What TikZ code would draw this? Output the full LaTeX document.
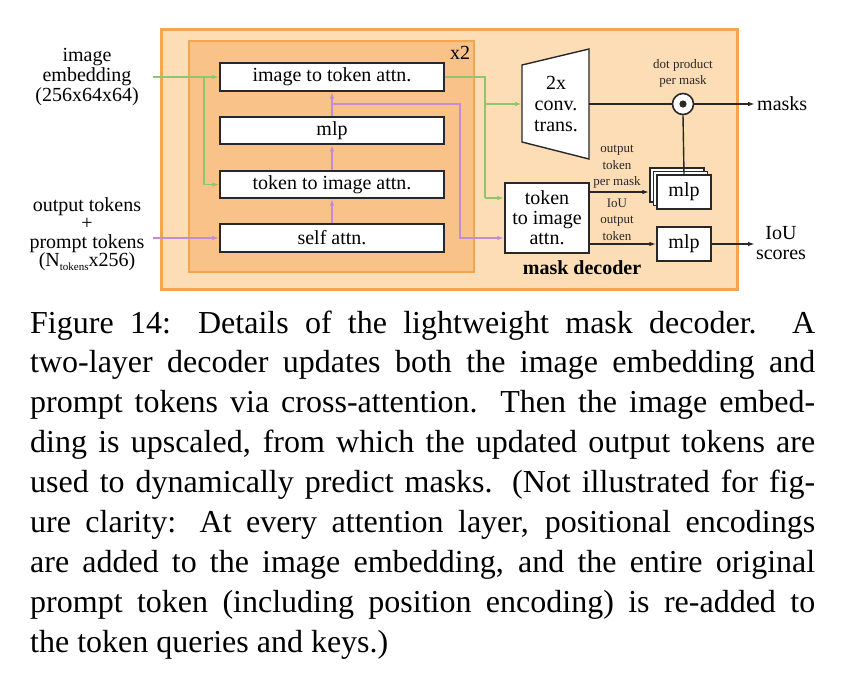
\documentclass[tikz,border=0pt]{standalone}
\usepackage{fontspec}
\setmainfont{Liberation Serif}
\usetikzlibrary{arrows.meta}
\definecolor{borderor}{RGB}{245,166,76}
\definecolor{outerfill}{RGB}{253,221,181}
\definecolor{innerfill}{RGB}{248,194,136}
\definecolor{greenln}{RGB}{140,198,110}
\definecolor{purpleln}{RGB}{192,142,212}
\definecolor{darkln}{RGB}{40,40,40}
\newcommand{\dfont}{\fontsize{20}{21}\selectfont}
\newcommand{\sfontsmall}{\fontsize{13}{16}\selectfont}
\begin{document}
\begin{tikzpicture}[x=1pt,y=-1pt,
  wbox/.style={draw=darkln,line width=1.4pt,fill=white,inner sep=0pt,font=\dfont},
  garr/.style={greenln,line width=1.5pt,-{Latex[length=7pt,width=4.5pt]}},
  gline/.style={greenln,line width=1.5pt},
  parr/.style={purpleln,line width=1.5pt,-{Latex[length=7pt,width=4.5pt]}},
  pline/.style={purpleln,line width=1.5pt},
  barr/.style={darkln,line width=1.4pt,-{Latex[length=7pt,width=4.5pt]}},
  bline/.style={darkln,line width=1.4pt},
  lbl/.style={font=\dfont,align=center,inner sep=0pt},
  slbl/.style={font=\sfontsmall,align=center,inner sep=0pt,text=darkln}]
\useasboundingbox (0,0) rectangle (843,678);
% containers
\draw[borderor,line width=3pt,fill=outerfill] (161.5,29.5) rectangle (737.5,289);
\draw[borderor,line width=2.5pt,fill=innerfill] (189,41) rectangle (474,272);
\node[lbl,anchor=center] (x2) at (460,53) {x2};
\node[lbl,font=\fontsize{20}{21}\selectfont\bfseries] (md) at (582,268) {mask decoder};
% inner boxes
\node[wbox,minimum width=224pt,minimum height=28pt] (itt) at (332,77) {image to token attn.};
\node[wbox,minimum width=224pt,minimum height=27pt] (mlpa) at (332,130.5) {mlp};
\node[wbox,minimum width=224pt,minimum height=27pt] (tti) at (332,184.5) {token to image attn.};
\node[wbox,minimum width=224pt,minimum height=28pt] (sa) at (332,238) {self attn.};
% left labels
\node[lbl,font=\fontsize{20}{20}\selectfont] (imemb) at (87,77) {image\\embedding\\(256x64x64)};
\node[lbl,font=\fontsize{20}{18.5}\selectfont] (otok) at (87,234) {output tokens\\+\\prompt tokens\\(N\raisebox{-0.45ex}{\fontsize{11}{11}\selectfont tokens}x256)};
\coordinate (gin) at (153,77);
\coordinate (pin) at (153,238);
% conv trans
\draw[darkln,line width=1.4pt,fill=white] (522,65) -- (589,49) -- (589,159) -- (522,142) -- cycle;
\node[lbl] (conv) at (556,104) {2x\\conv.\\trans.};
\coordinate (convW) at (522,104);
\coordinate (convE) at (589,104);
% dot product
\node[draw=darkln,line width=1.6pt,fill=white,circle,minimum size=21pt,inner sep=0pt] (dot) at (683,104) {};
\fill[darkln] (dot.center) circle (3.6pt);
\node[slbl] (dotl) at (683,73) {dot product\\per mask};
% token to image attn 2
\node[wbox,minimum width=84pt,minimum height=70pt,align=center,font=\fontsize{20}{20}\selectfont] (tti2) at (547,218) {token\\to image\\attn.};
% mlp stack
\node[wbox,minimum width=54pt,minimum height=34pt] (mlpc) at (677,185) {};
\node[wbox,minimum width=54pt,minimum height=34pt] (mlpbk) at (680.5,188.5) {};
\node[wbox,minimum width=54pt,minimum height=34pt] (mlpb) at (684,192) {mlp};
\node[wbox,minimum width=54pt,minimum height=34pt] (mlpi) at (684,244) {mlp};
\node[slbl,font=\fontsize{13}{16.5}\selectfont] (otpm) at (617,167) {output\\token\\per mask};
\node[slbl,font=\fontsize{13}{16.5}\selectfont] (iouot) at (617,219.5) {IoU\\output\\token};
% outputs
\node[lbl,anchor=west] (masks) at (757,104) {masks};
\node[lbl,font=\fontsize{20}{20}\selectfont] (iou) at (781,243) {IoU\\scores};
\coordinate (mout) at (755,104);
\coordinate (iout) at (755,244);
% green connectors
\draw[garr] (gin) -- (itt.west);
\draw[garr] (204,77) -- (204,184.5) -- (tti.west);
\draw[gline] (itt.east) -- (485,77) -- (485,198);
\draw[garr] (485,104) -- (convW);
\draw[garr] (485,198) -- (tti2.west |- 0,198);
% purple connectors
\draw[parr] (pin) -- (sa.west);
\draw[parr] (sa.north) -- (tti.south);
\draw[parr] (tti.north) -- (mlpa.south);
\draw[parr] (mlpa.north) -- (itt.south);
\draw[parr] (332,104) -- (460,104) -- (460,238) -- (tti2.west |- 0,238);
% black connectors
\draw[bline] (convE) -- (dot.west);
\draw[barr] (dot.east) -- (mout);
\draw[bline] (dot.south) -- (mlpb.north);
\draw[barr] (tti2.east |- 0,192) -- (mlpc.west |- 0,192);
\draw[barr] (tti2.east |- 0,244) -- (mlpi.west);
\draw[barr] (mlpi.east) -- (iout);
% caption
\node[anchor=base west,inner sep=0pt,text width=785pt,align=justify,font=\fontsize{32}{39.9}\selectfont] (cap) at (30,333) {Figure 14: Details of the lightweight mask decoder. A\linebreak
two-layer decoder updates both the image embedding and\linebreak
prompt tokens via cross-attention. Then the image embed-\linebreak
ding is upscaled, from which the updated output tokens are\linebreak
used to dynamically predict masks. (Not illustrated for fig-\linebreak
ure clarity: At every attention layer, positional encodings\linebreak
are added to the image embedding, and the entire original\linebreak
prompt token (including position encoding) is re-added to\linebreak
the token queries and keys.)};
\end{tikzpicture}
\end{document}
